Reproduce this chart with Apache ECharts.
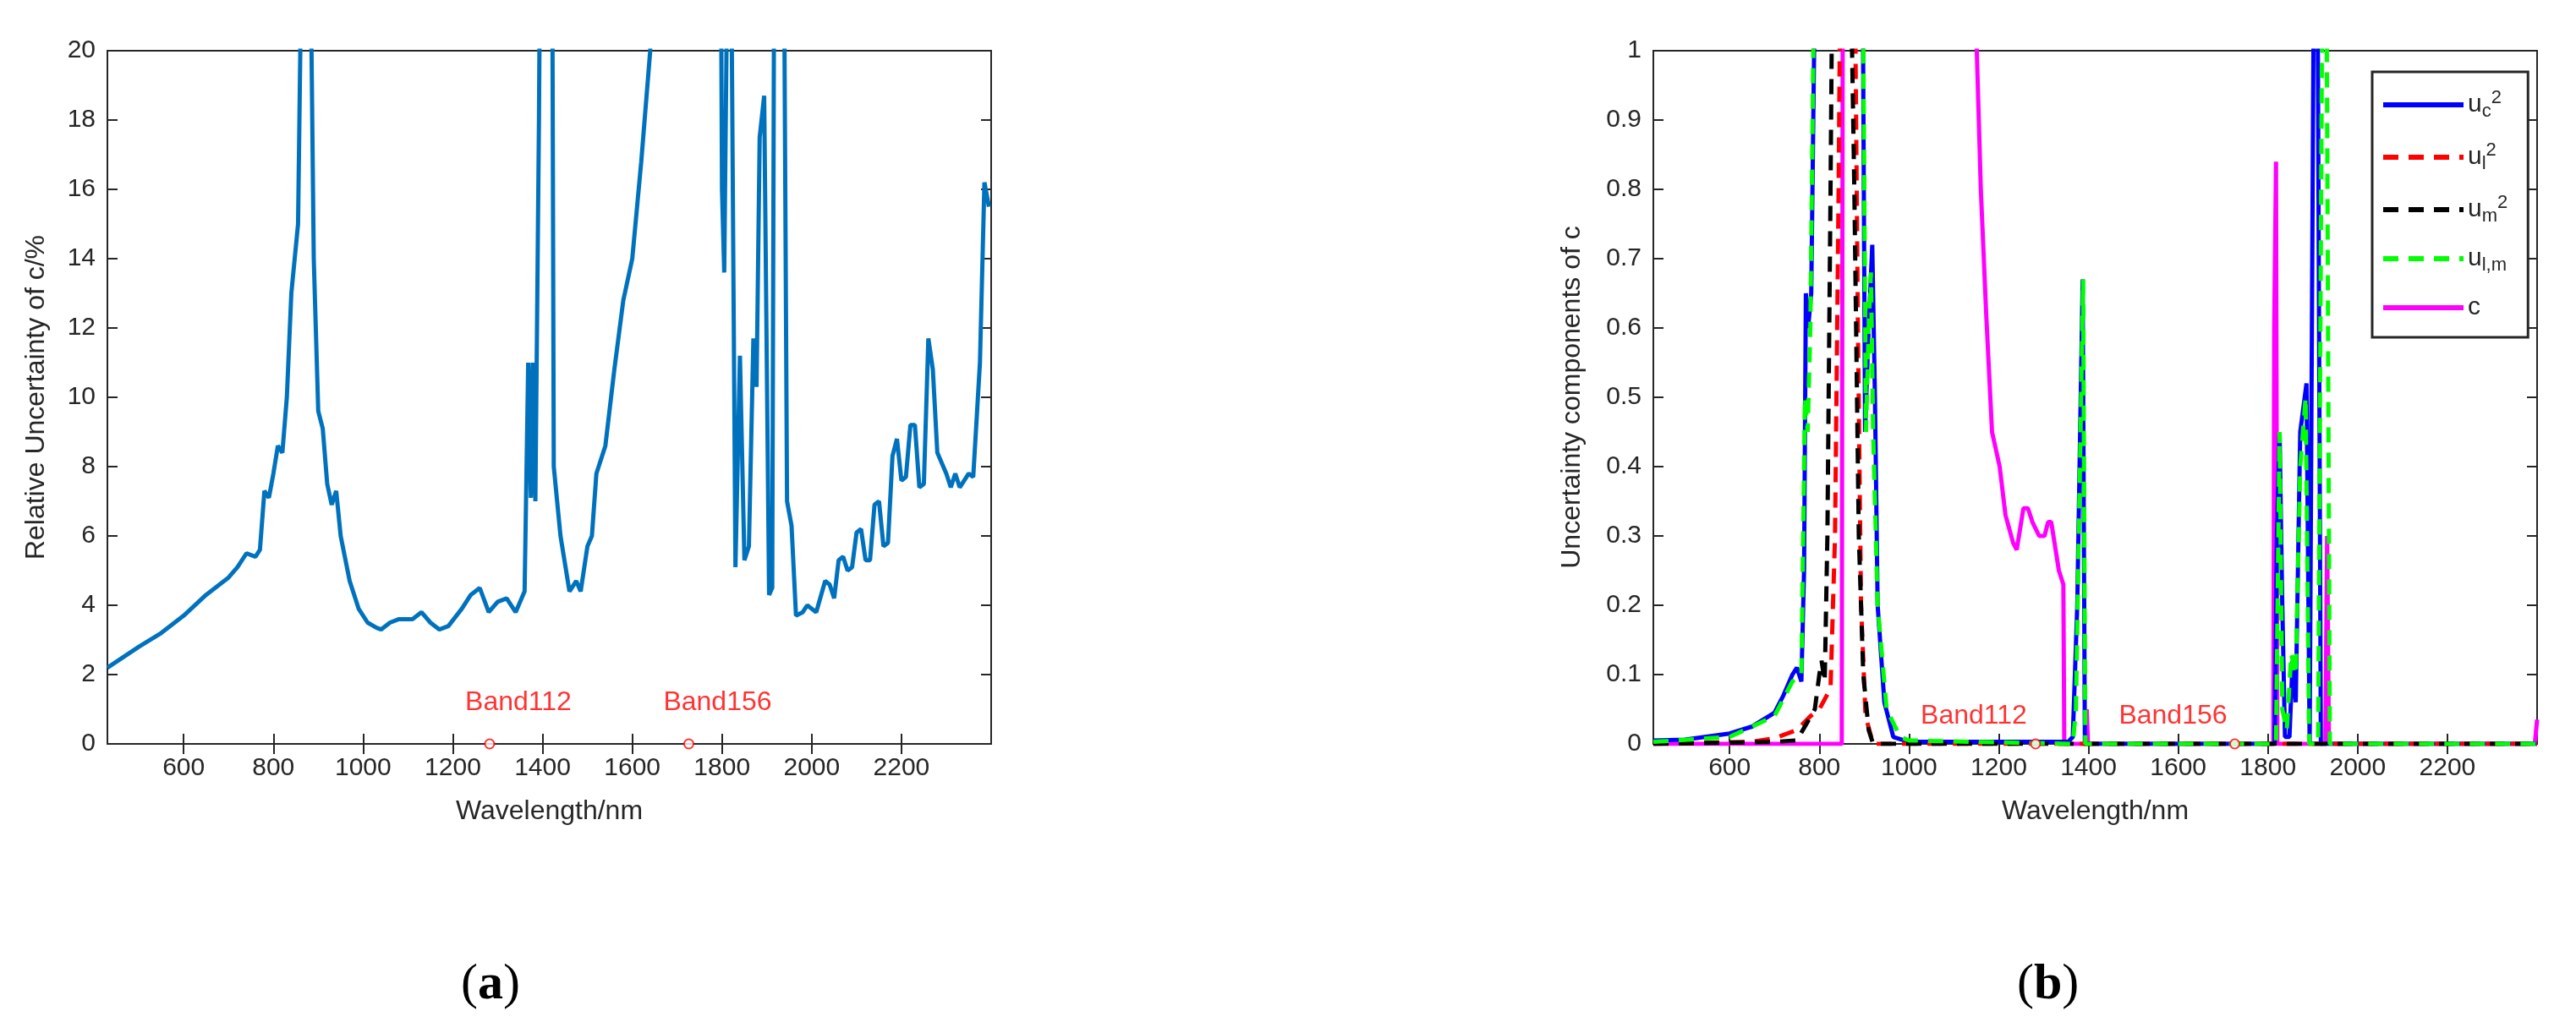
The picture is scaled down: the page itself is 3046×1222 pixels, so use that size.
<!DOCTYPE html>
<html><head><meta charset="utf-8">
<script src="https://cdn.jsdelivr.net/npm/echarts@6/dist/echarts.min.js"></script>
<style>html,body{margin:0;padding:0;background:#fff}#c{width:3046px;height:1222px}</style>
</head><body><div id="c"></div>
<script>
const relUnc = [[430,2.2],[500,2.8],[550,3.2],[600,3.7],[650,4.3],[700,4.8],[720,5.1],[740,5.5],[760,5.4],[770,5.6],[780,7.3],[790,7.1],[800,7.8],[810,8.6],[820,8.4],[830,10],[840,13],[855,15],[860,20],[865,30],[880,30],[885,20],[890,14],[900,9.6],[910,9.1],[920,7.5],[930,6.9],[940,7.3],[950,6.0],[970,4.7],[990,3.9],[1010,3.5],[1030,3.35],[1040,3.3],[1060,3.5],[1080,3.6],[1110,3.6],[1130,3.8],[1150,3.5],[1170,3.3],[1190,3.4],[1220,3.9],[1240,4.3],[1260,4.5],[1280,3.8],[1300,4.1],[1320,4.2],[1340,3.8],[1360,4.4],[1368,11],[1374,7.1],[1378,11],[1384,7],[1392,18],[1398,30],[1420,30],[1425,8],[1440,6],[1460,4.4],[1475,4.7],[1485,4.4],[1500,5.7],[1510,6.0],[1520,7.8],[1540,8.6],[1560,10.8],[1580,12.8],[1600,14],[1620,16.8],[1640,20],[1650,30],[1795,30],[1800,16],[1805,13.6],[1810,20],[1815,30],[1822,20],[1830,5.1],[1840,11.2],[1850,5.3],[1860,5.7],[1870,11.7],[1877,10.3],[1884,17.5],[1894,18.7],[1905,4.3],[1912,4.5],[1918,30],[1935,30],[1945,7],[1955,6.3],[1965,3.7],[1980,3.8],[1990,4.0],[2010,3.8],[2030,4.7],[2040,4.6],[2050,4.2],[2060,5.3],[2070,5.4],[2080,5.0],[2090,5.1],[2100,6.1],[2110,6.2],[2120,5.3],[2130,5.3],[2140,6.9],[2150,7.0],[2160,5.7],[2170,5.8],[2180,8.3],[2190,8.8],[2200,7.6],[2210,7.7],[2220,9.2],[2230,9.2],[2240,7.4],[2250,7.5],[2260,11.7],[2270,10.8],[2280,8.4],[2300,7.8],[2310,7.4],[2320,7.8],[2330,7.4],[2350,7.8],[2360,7.7],[2375,11],[2385,16.2],[2395,15.5]];
const uc2 = [[430,0.005],[500,0.006],[600,0.015],[650,0.025],[700,0.045],[720,0.07],[740,0.1],[750,0.11],[760,0.09],[766,0.25],[770,0.65],[775,0.6],[782,0.65],[792,1.2],[896,1.2],[902,0.45],[910,0.6],[918,0.72],[924,0.5],[930,0.2],[945,0.06],[965,0.01],[1000,0.003],[1355,0.003],[1365,0.01],[1375,0.2],[1387,0.67],[1392,0],[1815,0],[1820,0.3],[1826,0.45],[1832,0.2],[1838,0.01],[1848,0.01],[1855,0.12],[1862,0.06],[1872,0.45],[1886,0.52],[1893,0],[1903,1.2],[1910,1.2],[1918,0],[2400,0]];
const ul2 = [[430,0],[650,0.003],[700,0.008],[750,0.02],[780,0.04],[800,0.05],[825,0.08],[835,0.3],[843,0.8],[848,1.2],[878,1.2],[886,0.6],[893,0.2],[903,0.04],[920,0],[2400,0]];
const um2 = [[430,0],[700,0.003],[750,0.005],[790,0.05],[800,0.1],[805,0.12],[812,0.09],[818,0.3],[825,0.8],[830,1.2],[868,1.2],[878,0.8],[888,0.3],[898,0.1],[910,0.02],[920,0],[2400,0]];
const ulm = [[430,0.003],[600,0.01],[700,0.04],[740,0.09],[760,0.1],[768,0.5],[774,0.45],[780,0.6],[790,1.2],[896,1.2],[904,0.45],[910,0.6],[915,0.68],[920,0.45],[930,0.2],[950,0.05],[980,0.01],[1000,0.005],[1365,0],[1372,0.05],[1388,0.67],[1393,0],[1818,0],[1826,0.45],[1832,0.05],[1842,0.02],[1852,0.13],[1862,0.1],[1872,0.4],[1884,0.5],[1892,0],[1912,0],[1922,1.2],[1930,1.2],[1938,0],[2400,0]];
const cSeries = [[430,0],[850,0],[853,1.5],[1148,1.5],[1151,1.0],[1160,0.8],[1172,0.62],[1185,0.45],[1202,0.4],[1215,0.33],[1232,0.29],[1240,0.28],[1255,0.34],[1265,0.34],[1275,0.32],[1290,0.3],[1302,0.3],[1310,0.32],[1317,0.32],[1334,0.25],[1344,0.23],[1346,0],[1393,0],[1396,0.05],[1399,0],[1812,0],[1814,0.6],[1818,0.84],[1821,0],[1928,0],[1932,0.3],[1936,0],[2395,0],[2400,0.035]];
const bands = [[1282,0,'Band112'],[1726,0,'Band156']];
const legendNames = ['uc2','ul2','um2','ulm','c'];

const chart = echarts.init(document.getElementById('c'));
const F = 'Liberation Sans, Arial, sans-serif';
const axCol = '#262626';
const TV = [600,800,1000,1200,1400,1600,1800,2000,2200];
function xA(gi){return {gridIndex:gi,type:'value',min:430,max:2400,
  axisLabel:{fontSize:30,color:axCol,fontFamily:F,margin:14,customValues:TV,formatter:v=>String(v)},
  axisTick:{inside:true,length:12,lineStyle:{color:axCol,width:2},customValues:TV},
  axisLine:{lineStyle:{color:axCol,width:2}},splitLine:{show:false},
  name:'Wavelength/nm',nameLocation:'middle',nameGap:64,nameTextStyle:{fontSize:32,color:axCol,fontFamily:F}};}
function xTop(gi){return {gridIndex:gi,type:'value',position:'top',min:430,max:2400,axisLabel:{show:false},axisTick:{inside:true,length:12,lineStyle:{color:axCol,width:2},customValues:TV},axisLine:{show:false},splitLine:{show:false}};}
function bandSeries(xi,off,dist){return {type:'scatter',xAxisIndex:xi,yAxisIndex:xi,data:bands,symbol:'emptyCircle',symbolSize:11,itemStyle:{color:'#ff0000',borderWidth:2},z:5,
      label:{show:true,position:'top',distance:dist,offset:[off,0],formatter:p=>p.data[2],color:'#ff0000',fontSize:32,fontFamily:F}};}
const option = {
  animation:false,
  grid:[{left:127,right:1874,top:60,bottom:342,show:true,borderColor:axCol,borderWidth:2},
        {left:1955,right:46,top:60,bottom:342,show:true,borderColor:axCol,borderWidth:2}],
  xAxis:[xA(0),xA(1),xTop(0),xTop(1)],
  yAxis:[
    {gridIndex:0,type:'value',min:0,max:20,interval:2,axisLabel:{fontSize:30,color:axCol,fontFamily:F,margin:14},axisTick:{inside:true,length:12,lineStyle:{color:axCol,width:2}},axisLine:{show:true,lineStyle:{color:axCol,width:2}},splitLine:{show:false},
     name:'Relative Uncertainty of c/%',nameLocation:'middle',nameGap:68,nameTextStyle:{fontSize:32,color:axCol,fontFamily:F}},
    {gridIndex:1,type:'value',min:0,max:1,interval:0.1,axisLabel:{fontSize:30,color:axCol,fontFamily:F,margin:14,formatter:v=>String(+v.toFixed(1))},axisTick:{inside:true,length:12,lineStyle:{color:axCol,width:2}},axisLine:{show:true,lineStyle:{color:axCol,width:2}},splitLine:{show:false},
     name:'Uncertainty components of c',nameLocation:'middle',nameGap:80,nameTextStyle:{fontSize:32,color:axCol,fontFamily:F}},
    {gridIndex:0,type:'value',position:'right',min:0,max:20,interval:2,axisLabel:{show:false},axisTick:{inside:true,length:12,lineStyle:{color:axCol,width:2}},axisLine:{show:false},splitLine:{show:false}},
    {gridIndex:1,type:'value',position:'right',min:0,max:1,interval:0.1,axisLabel:{show:false},axisTick:{inside:true,length:12,lineStyle:{color:axCol,width:2}},axisLine:{show:false},splitLine:{show:false}}],
  legend:{data:legendNames,orient:'vertical',left:2805,top:85,itemWidth:95,itemHeight:20,itemGap:24,
    itemStyle:{opacity:0},lineStyle:{width:6},
    backgroundColor:'#fff',borderColor:axCol,borderWidth:3,padding:[20,24,20,10],
    textStyle:{fontSize:30,color:axCol,fontFamily:F,rich:{s:{fontSize:22,verticalAlign:'bottom',padding:[16,0,0,0]},p:{fontSize:22,verticalAlign:'top',padding:[0,0,16,0]}}},
    formatter:n=>({uc2:'u{s|c}{p|2}',ul2:'u{s|l}{p|2}',um2:'u{s|m}{p|2}',ulm:'u{s|l,m}',c:'c'})[n]},
  series:[
    {type:'line',xAxisIndex:0,yAxisIndex:0,data:relUnc,symbol:'none',lineStyle:{color:'#0072BD',width:5},clip:true},
    bandSeries(0,34,26),
    {name:'uc2',type:'line',xAxisIndex:1,yAxisIndex:1,data:uc2,symbol:'none',lineStyle:{color:'#0000ff',width:5},itemStyle:{color:'#0000ff'},clip:true},
    {name:'ul2',type:'line',xAxisIndex:1,yAxisIndex:1,data:ul2,symbol:'none',lineStyle:{color:'#ff0000',width:5,type:[18,12]},itemStyle:{color:'#ff0000'},clip:true},
    {name:'um2',type:'line',xAxisIndex:1,yAxisIndex:1,data:um2,symbol:'none',lineStyle:{color:'#000000',width:5,type:[18,12]},itemStyle:{color:'#000000'},clip:true},
    {name:'c',type:'line',xAxisIndex:1,yAxisIndex:1,data:cSeries,symbol:'none',lineStyle:{color:'#ff00ff',width:5},itemStyle:{color:'#ff00ff'},clip:true,z:2},
    {name:'ulm',type:'line',xAxisIndex:1,yAxisIndex:1,data:ulm,symbol:'none',lineStyle:{color:'#00ff00',width:5,type:[18,12]},itemStyle:{color:'#00ff00'},clip:true,z:3},
    bandSeries(1,-73,10)
  ],
  graphic:[
    {type:'text',left:545,top:1135,style:{text:'({b|a})',fontSize:60,fontFamily:'Liberation Serif, serif',fill:'#000',rich:{b:{fontSize:60,fontWeight:'bold',fontFamily:'Liberation Serif, serif'}}}},
    {type:'text',left:2385,top:1135,style:{text:'({b|b})',fontSize:60,fontFamily:'Liberation Serif, serif',fill:'#000',rich:{b:{fontSize:60,fontWeight:'bold',fontFamily:'Liberation Serif, serif'}}}}
  ]
};
chart.setOption(option);
</script></body></html>
